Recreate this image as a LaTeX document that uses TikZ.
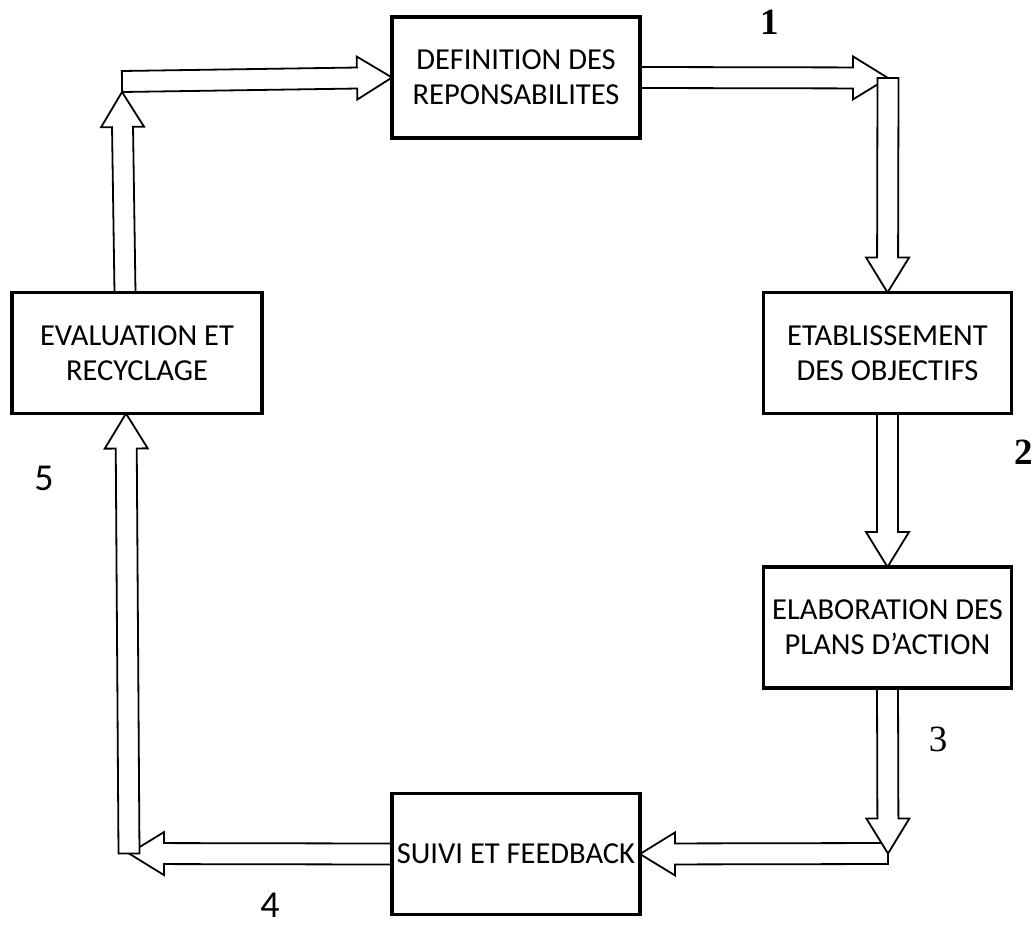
\documentclass[tikz,border=0pt]{standalone}
\usepackage{fontspec}
\setmainfont{Carlito}
\newfontfamily\numserif{Liberation Serif}
\usetikzlibrary{calc}
\pgfdeclarelayer{background}
\pgfsetlayers{background,main}

\tikzset{
  stagebox/.style={draw, line width=3.2pt, fill=white, outer sep=0pt, inner sep=0pt,
    minimum width=248pt, minimum height=121pt, align=center,
    font=\fontsize{30.5}{35}\selectfont},
  barrow/.style={draw, fill=white, line width=1.8pt, line join=miter},
  stepnum/.style={inner sep=0pt, font=\numserif\bfseries\fontsize{37}{40}\selectfont},
  stepnumplain/.style={inner sep=0pt, font=\numserif\fontsize{37}{40}\selectfont},
  stepnumsans/.style={inner sep=0pt, font=\fontsize{38}{42}\selectfont},
}

% hollow block arrow from #1 to the tip #2
\newcommand\blockarrow[2]{%
  \coordinate (ba-h) at ($(#2)!35pt!(#1)$);
  \path[barrow] ($(#1)!10.5pt!90:(#2)$) -- ($(ba-h)!10.5pt!90:(#2)$)
    -- ($(ba-h)!21.5pt!90:(#2)$) -- (#2) -- ($(ba-h)!21.5pt!-90:(#2)$)
    -- ($(ba-h)!10.5pt!-90:(#2)$) -- ($(#1)!10.5pt!-90:(#2)$) -- cycle;}

\begin{document}
\begin{tikzpicture}[x=1pt,y=-1pt]
\useasboundingbox (0,0) rectangle (1035,937);

% stages of the cycle
\node[stagebox] (def)   at (516,77.5)  {DEFINITION DES\\REPONSABILITES};
\node[stagebox] (etab)  at (887.5,353) {ETABLISSEMENT\\DES OBJECTIFS};
\node[stagebox] (elab)  at (887.5,627.5) {ELABORATION DES\\PLANS D’ACTION};
\node[stagebox] (suivi) at (516,854)   {SUIVI ET FEEDBACK};
\node[stagebox, minimum width=250pt] (eval) at (137,353) {EVALUATION ET\\RECYCLAGE};

% corners where the arrows turn
\coordinate (c1)  at (888,78);
\coordinate (c2)  at (888,853.5);
\coordinate (c3)  at (129,853.5);
\coordinate (c4a) at (122,92);
\coordinate (c4b) at (122,81.5);
% arrow ends on the left stage, off its centre line
\coordinate (evaltop) at ($(eval.north)+(-12,0)$);
\coordinate (evalbot) at ($(eval.south)+(-11,0)$);

\begin{pgfonlayer}{background}
  \blockarrow{def.east}{c1}
  \blockarrow{c1}{etab.north}
  \blockarrow{etab.south}{elab.north}
  \blockarrow{c2}{suivi.east}
  \blockarrow{elab.south}{c2}
  \blockarrow{suivi.west}{c3}
  \blockarrow{c3}{evalbot}
  \blockarrow{evaltop}{c4a}
  \blockarrow{c4b}{def.west}
\end{pgfonlayer}

% step numbers
\node[stepnum] (n1) at (770,22) {1};
\node[stepnum] (n2) at (1024,452) {2};
\node[stepnumplain] (n3) at (938,739) {3};
\node[stepnumsans] (n4) at (270,905) {4};
\node[stepnumsans] (n5) at (44,478) {5};
\end{tikzpicture}
\end{document}
